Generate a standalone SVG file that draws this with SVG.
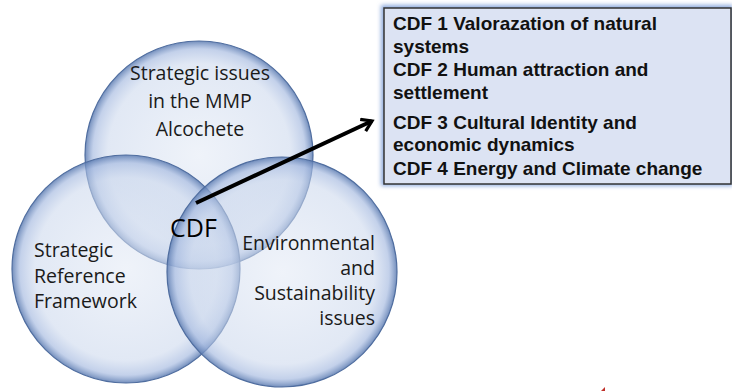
<svg xmlns="http://www.w3.org/2000/svg" width="732" height="391" viewBox="0 0 732 391">
<defs>
<style>
.circ{fill:url(#cg);stroke:#4f6d9f;stroke-width:1.2}
.lbl{font-family:"Open Sans","Noto Sans",sans-serif;font-size:19.5px;fill:#1a1a1a}
.box{font-family:"Liberation Sans",Arial,sans-serif;font-weight:bold;font-size:19px;fill:#111}
</style>
<radialGradient id="cg" cx="0.5" cy="0.5" r="0.5">
<stop offset="0" stop-color="#e2e9f5" stop-opacity="0.55"/>
<stop offset="0.8" stop-color="#c9d6ec" stop-opacity="0.55"/>
<stop offset="0.93" stop-color="#a3b8df" stop-opacity="0.65"/>
<stop offset="1" stop-color="#5a7ab0" stop-opacity="0.85"/>
</radialGradient>
<filter id="blur" x="-10%" y="-10%" width="120%" height="120%"><feGaussianBlur stdDeviation="2"/></filter>
<marker id="ah" markerWidth="16" markerHeight="16" viewBox="0 0 16 16" refX="12" refY="8" orient="auto" markerUnits="userSpaceOnUse">
<polyline points="2,1.5 12,8 2,14.5" fill="none" stroke="#000" stroke-width="3.2"/>
</marker>
</defs>
<rect width="732" height="391" fill="#fff"/>
<g id="circle-top">
<circle class="circ" cx="199" cy="155" r="114"/>
<text class="lbl" text-anchor="middle"><tspan x="200" y="80">Strategic issues</tspan><tspan x="200" y="108">in the MMP</tspan><tspan x="200" y="136">Alcochete</tspan></text>
</g>
<g id="circle-left">
<circle class="circ" cx="126" cy="269" r="114"/>
<text class="lbl"><tspan x="34" y="257">Strategic</tspan><tspan x="34" y="283">Reference</tspan><tspan x="34" y="308">Framework</tspan></text>
</g>
<g id="circle-right">
<circle class="circ" cx="282" cy="272" r="115"/>
<text class="lbl" text-anchor="end"><tspan x="375" y="250">Environmental</tspan><tspan x="375" y="275">and</tspan><tspan x="375" y="300">Sustainability</tspan><tspan x="375" y="325">issues</tspan></text>
</g>
<g id="cdf">
<text x="170" y="237" style="font-family:'Open Sans','Noto Sans',sans-serif;font-size:25px;fill:#000">CDF</text>
</g>
<g id="connectors">
<line x1="196" y1="203" x2="372" y2="121" stroke="#000" stroke-width="4" marker-end="url(#ah)"/>
</g>
<g id="cdf-list">
<rect x="381" y="5" width="352" height="181" fill="#8eaade" filter="url(#blur)"/>
<rect x="384" y="8" width="347" height="176" fill="#dce3f3" stroke="#333" stroke-width="1.5"/>
<text class="box"><tspan x="393" y="30">CDF 1 Valorazation of natural</tspan><tspan x="393" y="53">systems</tspan><tspan x="393" y="76">CDF 2 Human attraction and</tspan><tspan x="393" y="99">settlement</tspan><tspan x="393" y="129">CDF 3 Cultural Identity and</tspan><tspan x="393" y="151">economic dynamics</tspan><tspan x="393" y="175">CDF 4 Energy and Climate change</tspan></text>
</g>
<polygon points="601,391 605,391 605,387" fill="#c0302a"/>
</svg>
